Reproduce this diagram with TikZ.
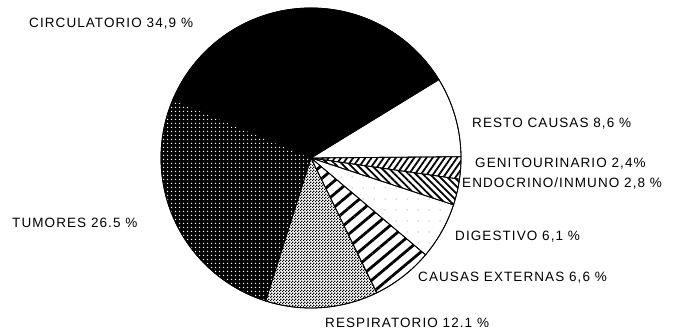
\documentclass[tikz,border=0pt]{standalone}
\usepackage{fontspec}
\setmainfont{Liberation Sans}[LetterSpace=8]
\usetikzlibrary{patterns.meta}
\tikzdeclarepattern{
  name=checker,
  type=uncolored,
  bottom left={(0pt,0pt)}, top right={(3pt,3pt)}, tile size={(3pt,3pt)},
  code={\fill (0pt,0pt) rectangle (1.5pt,1.5pt); \fill (1.5pt,1.5pt) rectangle (3pt,3pt);}
}
\begin{document}
\begin{tikzpicture}[x=1pt,y=1pt,
  lbl/.style={anchor=base west,inner sep=0pt,font=\fontsize{13.5}{15}\selectfont},
  slice/.style={draw=black,line width=0.8pt,line join=round},
  circ/.style={slice,fill=black},
  resto/.style={slice,fill=white},
  genito/.style={slice,pattern={Lines[angle=55,distance=5pt,line width=1.8pt]},pattern color=black},
  endo/.style={slice,pattern={Lines[angle=-45,distance=5pt,line width=1.8pt]},pattern color=black},
  dige/.style={slice,pattern={Dots[distance=11pt,radius=0.5pt]},pattern color=black!60},
  causas/.style={slice,pattern={Lines[angle=40,distance=10pt,line width=2.8pt]},pattern color=black},
  resp/.style={slice,pattern=checker,pattern color=black},
  tumor/.style={slice,preaction={fill=black},pattern={Dots[distance=4pt,radius=0.9pt]},pattern color=white}
]
\useasboundingbox[fill=white] (0,0) rectangle (679,331);
\coordinate (c) at (311,173);
\def\R{150}
\newcommand\pieslice[3]{\draw[#3] (c) -- ++(#1:\R) arc[start angle=#1,end angle=#2,radius=\R] -- cycle;}
\pieslice{0.5}{31.5}{resto}
\pieslice{31.5}{157}{circ}
\pieslice{157}{252.4}{tumor}
\pieslice{252.4}{296}{resp}
\pieslice{296}{319.8}{causas}
\pieslice{319.8}{341.8}{dige}
\pieslice{341.8}{351.9}{endo}
\pieslice{351.9}{360.5}{genito}
\draw[line width=0.8pt] (c) circle[radius=\R];

\node[lbl] (lcirc) at (29,303) {CIRCULATORIO 34,9 \%};
\node[lbl] (lresto) at (472,203) {RESTO CAUSAS 8,6 \%};
\node[lbl] (lgen) at (475,163) {GENITOURINARIO 2,4\%};
\node[lbl] (lend) at (462,143) {ENDOCRINO/INMUNO 2,8 \%};
\node[lbl] (ldig) at (455,90) {DIGESTIVO 6,1 \%};
\node[lbl] (lcau) at (418,49) {CAUSAS EXTERNAS 6,6 \%};
\node[lbl] (lres) at (325,3) {RESPIRATORIO 12.1 \%};
\node[lbl] (ltum) at (12,103) {TUMORES 26.5 \%};
\end{tikzpicture}
\end{document}
